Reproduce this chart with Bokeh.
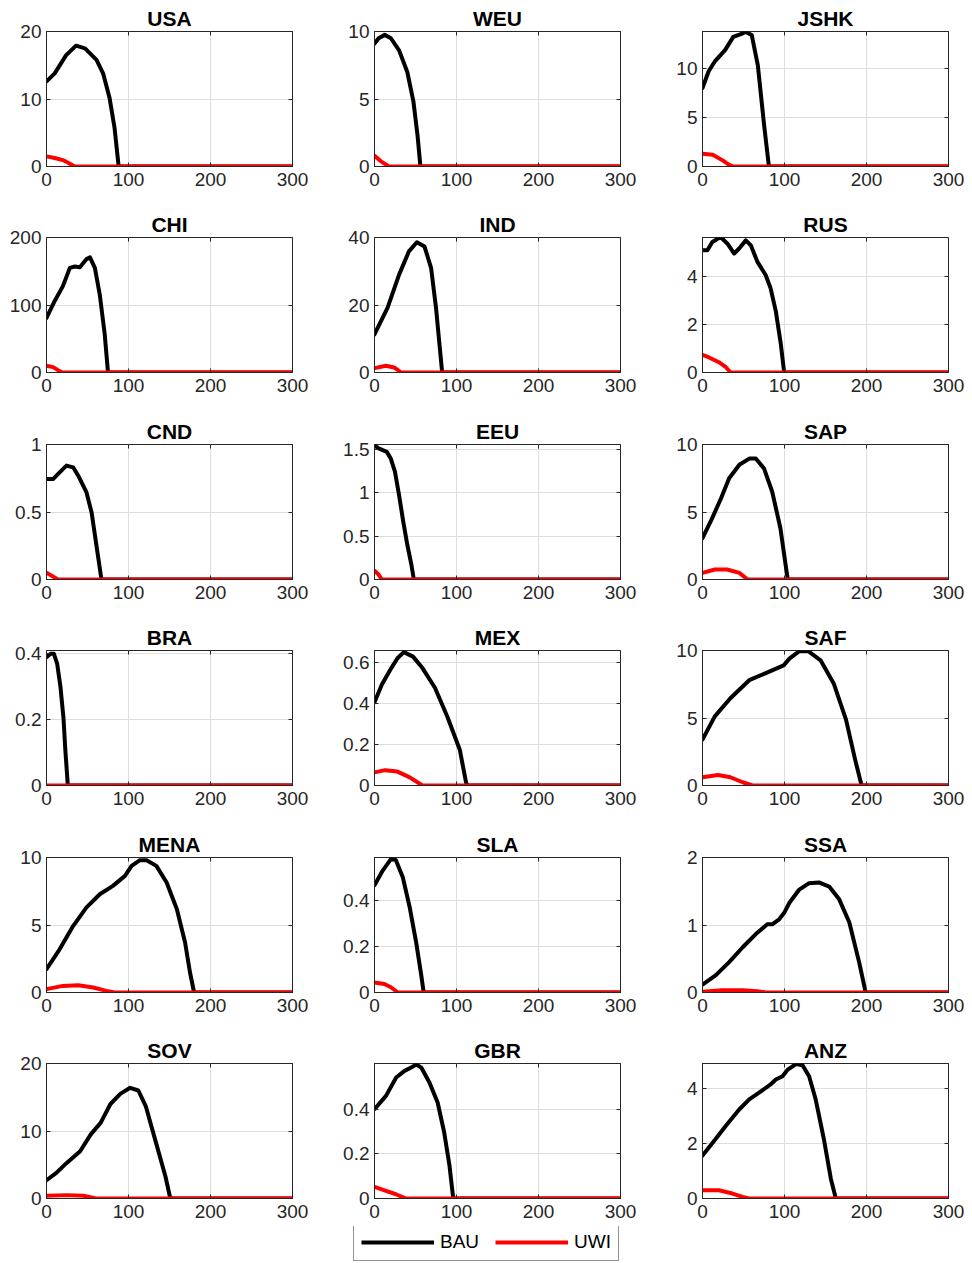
from bokeh.plotting import figure
from bokeh.layouts import column, row
from bokeh.models import (FixedTicker, CustomJSTickFormatter, LinearAxis, Range1d,
                          Legend, LegendItem)
from bokeh.embed import file_html
from bokeh.resources import INLINE

# ---------------- data ----------------
regions = ["USA", "WEU", "JSHK", "CHI", "IND", "RUS", "CND", "EEU", "SAP",
           "BRA", "MEX", "SAF", "MENA", "SLA", "SSA", "SOV", "GBR", "ANZ"]
x_ticks = [0, 100, 200, 300]

USA_bau_x = [0, 10, 24, 36, 47, 61, 69, 77, 83, 88, 300]
USA_bau_y = [12.6, 13.8, 16.5, 17.9, 17.5, 15.8, 13.8, 10.1, 5.7, 0, 0]
USA_uwi_x = [0, 10, 20, 28, 34, 300]
USA_uwi_y = [1.5, 1.25, 0.95, 0.45, 0, 0]

WEU_bau_x = [0, 5, 12.5, 20, 30, 40, 47.5, 52.5, 56, 300]
WEU_bau_y = [9.1, 9.5, 9.75, 9.5, 8.6, 7.0, 4.8, 2.3, 0, 0]
WEU_uwi_x = [0, 7.5, 17.5, 300]
WEU_uwi_y = [0.8, 0.4, 0, 0]

JSHK_bau_x = [0, 7.5, 15, 27.5, 37.5, 47.5, 52.5, 60, 67.5, 75, 81, 300]
JSHK_bau_y = [8.0, 9.7, 10.7, 11.85, 13.2, 13.5, 13.7, 13.4, 10.3, 4.3, 0, 0]
JSHK_uwi_x = [0, 12.5, 25, 32, 37.5, 300]
JSHK_uwi_y = [1.3, 1.2, 0.6, 0.2, 0, 0]

CHI_bau_x = [0, 10, 20, 28.5, 34.6, 40.7, 48.8, 53, 59, 65, 71, 75, 300]
CHI_bau_y = [81, 106, 128, 155, 157, 156, 168, 170.5, 155, 115, 56.5, 0, 0]
CHI_uwi_x = [0, 8, 14, 19, 300]
CHI_uwi_y = [10, 8, 3.5, 0, 0]

IND_bau_x = [0, 16, 30, 42, 51.6, 61, 69, 75, 80, 82.5, 300]
IND_bau_y = [11.3, 19.2, 29, 35.9, 38.6, 37.3, 31, 19.2, 6.4, 0, 0]
IND_uwi_x = [0, 14, 24, 32.5, 300]
IND_uwi_y = [1.3, 2.0, 1.5, 0, 0]

RUS_bau_x = [0, 6, 12, 22, 30.5, 38.6, 44.7, 52.8, 59, 67, 77, 83, 89.4, 95.5, 99.6, 300]
RUS_bau_y = [5.12, 5.12, 5.46, 5.67, 5.39, 4.98, 5.19, 5.53, 5.32, 4.63, 4.08, 3.53, 2.57, 1.19, 0, 0]
RUS_uwi_x = [0, 8, 20, 28.5, 34.5, 300]
RUS_uwi_y = [0.74, 0.63, 0.43, 0.22, 0, 0]

CND_bau_x = [0, 8, 16, 24.4, 32.5, 38.7, 48.8, 55, 61, 67, 300]
CND_bau_y = [0.744, 0.744, 0.794, 0.844, 0.831, 0.769, 0.645, 0.496, 0.248, 0, 0]
CND_uwi_x = [0, 14, 300]
CND_uwi_y = [0.05, 0, 0]

EEU_bau_x = [0, 5, 15, 20, 25, 30, 35, 40, 45, 48, 300]
EEU_bau_y = [1.545, 1.51, 1.47, 1.39, 1.24, 0.97, 0.67, 0.40, 0.17, 0, 0]
EEU_uwi_x = [0, 5, 9, 300]
EEU_uwi_y = [0.1, 0.057, 0, 0]

SAP_bau_x = [0, 10, 22.5, 32.5, 45, 57.5, 65, 75, 85, 95, 102.5, 104, 300]
SAP_bau_y = [3.07, 4.3, 6.0, 7.5, 8.5, 8.97, 8.97, 8.23, 6.5, 3.8, 0.6, 0, 0]
SAP_uwi_x = [0, 15, 30, 45, 55, 300]
SAP_uwi_y = [0.49, 0.74, 0.74, 0.49, 0, 0]

BRA_bau_x = [0, 5, 9, 13, 17, 20.7, 23, 26, 300]
BRA_bau_y = [0.39, 0.40, 0.40, 0.37, 0.30, 0.205, 0.107, 0, 0]
BRA_uwi_x = [0, 300]
BRA_uwi_y = [0, 0]

MEX_bau_x = [0, 9, 20.5, 28, 35.7, 47, 58.5, 73.7, 89, 104, 111.6, 113, 300]
MEX_bau_y = [0.407, 0.494, 0.574, 0.622, 0.652, 0.63, 0.574, 0.478, 0.335, 0.175, 0.016, 0, 0]
MEX_uwi_x = [0, 13, 28, 43, 58.5, 300]
MEX_uwi_y = [0.064, 0.075, 0.068, 0.04, 0, 0]

SAF_bau_x = [0, 15, 34, 57, 80, 99, 106, 118, 129, 144, 160, 175, 186, 194, 300]
SAF_bau_y = [3.41, 5.12, 6.46, 7.8, 8.4, 8.9, 9.4, 9.95, 9.95, 9.27, 7.56, 4.88, 1.95, 0, 0]
SAF_uwi_x = [0, 19, 34, 49, 61, 300]
SAF_uwi_y = [0.61, 0.78, 0.61, 0.24, 0, 0]

MENA_bau_x = [0, 16, 32.6, 48.8, 65, 81, 95.7, 103.8, 114, 122, 134, 146.5, 159, 169, 175, 180, 300]
MENA_bau_y = [1.73, 3.2, 4.94, 6.3, 7.28, 7.9, 8.64, 9.38, 9.8, 9.8, 9.38, 8.15, 6.17, 3.7, 1.48, 0, 0]
MENA_uwi_x = [0, 20, 38.7, 57, 73, 83.5, 300]
MENA_uwi_y = [0.25, 0.49, 0.54, 0.37, 0.12, 0, 0]

SLA_bau_x = [0, 10, 20, 26, 34.5, 42.7, 50.8, 57, 60, 300]
SLA_bau_y = [0.469, 0.533, 0.583, 0.579, 0.504, 0.376, 0.219, 0.076, 0, 0]
SLA_uwi_x = [0, 12, 20, 28.5, 300]
SLA_uwi_y = [0.044, 0.037, 0.023, 0, 0]

SSA_bau_x = [0, 16, 32.5, 49, 65, 79, 85, 93.5, 99.6, 106, 118, 130, 142, 154.5, 166.7, 179, 191, 199, 300]
SSA_bau_y = [0.117, 0.254, 0.45, 0.67, 0.866, 1.01, 1.01, 1.085, 1.18, 1.33, 1.525, 1.62, 1.63, 1.57, 1.38, 1.04, 0.45, 0, 0]
SSA_uwi_x = [0, 24, 49, 67, 77, 300]
SSA_uwi_y = [0.01, 0.034, 0.034, 0.02, 0, 0]

SOV_bau_x = [0, 12, 24, 41, 54, 66, 78, 90, 102, 112, 121, 133, 145, 151, 300]
SOV_bau_y = [2.7, 3.8, 5.2, 7.0, 9.5, 11.2, 14.0, 15.5, 16.4, 16.0, 13.7, 8.5, 3.3, 0, 0]
SOV_uwi_x = [0, 25, 45, 55, 60, 300]
SOV_uwi_y = [0.4, 0.5, 0.4, 0.15, 0, 0]

GBR_bau_x = [0, 14, 26.4, 36.6, 44.7, 50.8, 57, 67, 77, 85, 91.5, 96, 300]
GBR_bau_y = [0.40, 0.46, 0.542, 0.572, 0.587, 0.60, 0.587, 0.52, 0.43, 0.296, 0.146, 0, 0]
GBR_uwi_x = [0, 14, 26, 38.6, 300]
GBR_uwi_y = [0.052, 0.034, 0.019, 0, 0]

ANZ_bau_x = [0, 16, 28.5, 45, 57, 69, 83, 89.4, 97.6, 104, 114, 122, 130, 138, 148, 156.5, 162.6, 300]
ANZ_bau_y = [1.56, 2.16, 2.64, 3.24, 3.6, 3.84, 4.14, 4.32, 4.44, 4.68, 4.88, 4.84, 4.44, 3.6, 2.16, 0.72, 0, 0]
ANZ_uwi_x = [0, 20, 36.6, 48.8, 57, 300]
ANZ_uwi_y = [0.3, 0.3, 0.18, 0.06, 0, 0]

y_tops = [20, 10, 13.75, 200, 40, 5.65, 1, 1.555, 10,
          0.41, 0.66, 10, 10, 0.59, 2, 20, 0.605, 4.9]
y_ticks = [[0, 10, 20], [0, 5, 10], [0, 5, 10], [0, 100, 200], [0, 20, 40],
           [0, 2, 4], [0, 0.5, 1], [0, 0.5, 1, 1.5], [0, 5, 10],
           [0, 0.2, 0.4], [0, 0.2, 0.4, 0.6], [0, 5, 10], [0, 5, 10],
           [0, 0.2, 0.4], [0, 1, 2], [0, 10, 20], [0, 0.2, 0.4], [0, 2, 4]]

series = {
    "USA": (USA_bau_x, USA_bau_y, USA_uwi_x, USA_uwi_y),
    "WEU": (WEU_bau_x, WEU_bau_y, WEU_uwi_x, WEU_uwi_y),
    "JSHK": (JSHK_bau_x, JSHK_bau_y, JSHK_uwi_x, JSHK_uwi_y),
    "CHI": (CHI_bau_x, CHI_bau_y, CHI_uwi_x, CHI_uwi_y),
    "IND": (IND_bau_x, IND_bau_y, IND_uwi_x, IND_uwi_y),
    "RUS": (RUS_bau_x, RUS_bau_y, RUS_uwi_x, RUS_uwi_y),
    "CND": (CND_bau_x, CND_bau_y, CND_uwi_x, CND_uwi_y),
    "EEU": (EEU_bau_x, EEU_bau_y, EEU_uwi_x, EEU_uwi_y),
    "SAP": (SAP_bau_x, SAP_bau_y, SAP_uwi_x, SAP_uwi_y),
    "BRA": (BRA_bau_x, BRA_bau_y, BRA_uwi_x, BRA_uwi_y),
    "MEX": (MEX_bau_x, MEX_bau_y, MEX_uwi_x, MEX_uwi_y),
    "SAF": (SAF_bau_x, SAF_bau_y, SAF_uwi_x, SAF_uwi_y),
    "MENA": (MENA_bau_x, MENA_bau_y, MENA_uwi_x, MENA_uwi_y),
    "SLA": (SLA_bau_x, SLA_bau_y, SLA_uwi_x, SLA_uwi_y),
    "SSA": (SSA_bau_x, SSA_bau_y, SSA_uwi_x, SSA_uwi_y),
    "SOV": (SOV_bau_x, SOV_bau_y, SOV_uwi_x, SOV_uwi_y),
    "GBR": (GBR_bau_x, GBR_bau_y, GBR_uwi_x, GBR_uwi_y),
    "ANZ": (ANZ_bau_x, ANZ_bau_y, ANZ_uwi_x, ANZ_uwi_y),
}

# ---------------- styling ----------------
FONT = "Liberation Sans"
AX = "#262626"
GRID = "#dedede"
TICK_FS = "19px"
fmt_code = "return String(Math.round(tick*1000)/1000);"
blank_code = "return '';"

bottom_borders = [40, 41, 40, 41, 40, 28]


def make_panel(i):
    name = regions[i]
    bx, by, ux, uy = series[name]
    r, c = divmod(i, 3)
    right_border = 36 if c < 2 else 20
    p = figure(frame_width=246, frame_height=135,
               min_border_left=46, min_border_right=right_border,
               min_border_top=31, min_border_bottom=bottom_borders[r],
               x_range=Range1d(0, 300), y_range=Range1d(0, y_tops[i]),
               output_backend="svg", toolbar_location=None,
               background_fill_color="white", border_fill_color="white")
    p.title.text = name
    p.title.align = "center"
    p.title.text_font = FONT
    p.title.text_font_size = "21px"
    p.title.text_font_style = "bold"
    p.title.text_color = "black"
    p.title.standoff = 3

    xt = FixedTicker(ticks=x_ticks)
    yt = FixedTicker(ticks=y_ticks[i])
    for ax, t in ((p.xaxis[0], xt), (p.yaxis[0], yt)):
        ax.ticker = t
        ax.formatter = CustomJSTickFormatter(code=fmt_code)
        ax.major_label_text_font = FONT
        ax.major_label_text_font_size = TICK_FS
        ax.major_label_text_color = AX
        ax.axis_line_color = AX
        ax.major_tick_line_color = AX
        ax.major_tick_in = 4
        ax.major_tick_out = 0
        ax.minor_tick_line_color = None
        ax.major_label_standoff = 5
    p.xaxis[0].major_label_standoff = 6

    # box ticks on top and right (MATLAB style), no labels
    for loc, t in (("right", yt), ("above", xt)):
        a = LinearAxis(ticker=t, formatter=CustomJSTickFormatter(code=blank_code),
                       major_label_standoff=0, axis_line_color=None,
                       major_tick_line_color=AX, major_tick_in=4, major_tick_out=0,
                       minor_tick_line_color=None)
        p.add_layout(a, loc)

    p.xgrid.ticker = xt
    p.ygrid.ticker = yt
    p.xgrid.grid_line_color = GRID
    p.ygrid.grid_line_color = GRID
    p.outline_line_color = AX
    p.outline_line_width = 1
    p.outline_line_alpha = 1

    p.line(bx, by, line_color="black", line_width=4, line_join="round", line_cap="round")
    p.line(ux, uy, line_color="#ff0000", line_width=4, line_join="round", line_cap="round")
    return p


panels = [make_panel(i) for i in range(len(regions))]
rows = [row(*panels[k * 3:(k + 1) * 3]) for k in range(6)]

# legend strip (legend lines use off-screen samples so only the legend shows them)
lg = figure(width=972, height=36, x_range=Range1d(0, 1), y_range=Range1d(0, 1),
            x_axis_type=None, y_axis_type=None, output_backend="svg",
            toolbar_location=None, min_border=0, outline_line_color=None,
            background_fill_color="white", border_fill_color="white")
lg.xgrid.visible = False
lg.ygrid.visible = False
r1 = lg.line([-5, -4], [-5, -4], line_color="black", line_width=4)
r2 = lg.line([-5, -4], [-5, -4], line_color="#ff0000", line_width=4)
legend = Legend(items=[LegendItem(label="BAU", renderers=[r1]),
                       LegendItem(label="UWI", renderers=[r2])],
                orientation="horizontal", location=(353, 1),
                glyph_width=73, glyph_height=20, label_standoff=6, spacing=16,
                padding=7, margin=0, label_text_font=FONT,
                label_text_font_size="19px", label_text_color="black",
                border_line_color=AX, border_line_width=1,
                background_fill_color="white", background_fill_alpha=1)
lg.add_layout(legend, "center")

layout = column(*rows, lg)
open("out.html", "w").write(file_html(layout, INLINE))
